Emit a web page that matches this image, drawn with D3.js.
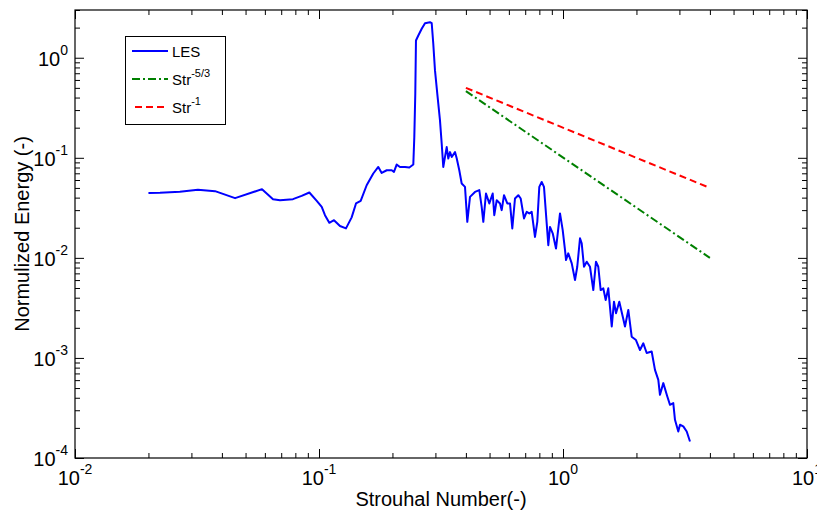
<!DOCTYPE html>
<html>
<head>
<meta charset="utf-8">
<script src="https://cdn.jsdelivr.net/npm/d3@7"></script>
<style>
  body { margin: 0; background: #fff; }
  text { font-family: Arial, "Liberation Sans", sans-serif; fill: #000; }
</style>
</head>
<body>
<script>
// LES spectrum
var lesSt = [0.0200,0.0223,0.0269,0.0319,0.0375,0.0453,0.0584,0.0648,0.0692,0.0782,
  0.0849,0.0913,0.0979,0.1026,0.1058,0.1102,0.1152,0.1219,0.1290,0.1361,
  0.1418,0.1482,0.1568,0.1669,0.1750,0.1807,0.1895,0.1986,0.2029,0.2081,
  0.2148,0.2252,0.2345,0.2435,0.2458,0.2481,0.2497,0.2553,0.2636,0.2719,
  0.2850,0.2897,0.2940,0.2988,0.3053,0.3132,0.3183,0.3231,0.3284,0.3337,
  0.3388,0.3443,0.3499,0.3609,0.3667,0.3758,0.3844,0.3966,0.4053,0.4158,
  0.4358,0.4539,0.4642,0.4714,0.4835,0.4989,0.5151,0.5229,0.5350,0.5518,
  0.5608,0.5731,0.5912,0.6065,0.6197,0.6357,0.6558,0.6708,0.6921,0.7099,
  0.7276,0.7442,0.7677,0.7847,0.7996,0.8178,0.8357,0.8574,0.8706,0.8845,
  0.9074,0.9361,0.9721,0.9972,1.019,1.029,1.051,1.086,1.120,1.144,
  1.174,1.193,1.219,1.251,1.290,1.331,1.365,1.395,1.427,1.463,
  1.496,1.533,1.584,1.618,1.649,1.701,1.757,1.795,1.852,1.912,
  1.991,2.068,2.134,2.203,2.309,2.382,2.458,2.497,2.577,2.676,
  2.745,2.831,2.877,2.968,3.016,3.112,3.214,3.315];
var lesE = [0.0446,0.0448,0.0459,0.0480,0.0464,0.0395,0.0486,0.0386,0.0377,0.0386,
  0.0416,0.0450,0.0371,0.0323,0.0267,0.0224,0.0238,0.0208,0.0197,0.0254,
  0.0350,0.0371,0.0532,0.0697,0.0810,0.0706,0.0751,0.0751,0.0723,0.0856,
  0.0810,0.0810,0.0799,0.0856,0.161,0.437,1.488,1.669,1.947,2.214,
  2.265,2.214,1.379,0.747,0.437,0.237,0.139,0.0810,0.102,0.128,
  0.0983,0.114,0.102,0.114,0.0990,0.0751,0.0554,0.0512,0.0229,0.0407,
  0.0456,0.0475,0.0323,0.0229,0.0440,0.0350,0.0440,0.0267,0.0377,0.0350,
  0.0300,0.0423,0.0350,0.0350,0.0197,0.0392,0.0423,0.0392,0.0248,0.0288,
  0.0278,0.0288,0.0162,0.0229,0.0512,0.0574,0.0512,0.0221,0.0134,0.0204,
  0.0176,0.0124,0.0278,0.0189,0.0120,0.00951,0.0111,0.00881,0.00601,0.00815,
  0.0157,0.0140,0.00815,0.00915,0.00815,0.00477,0.00915,0.00815,0.00477,0.00496,
  0.00379,0.00496,0.00206,0.00365,0.00280,0.00365,0.00259,0.00206,0.00302,0.00163,
  0.00151,0.00120,0.00140,0.00112,0.00116,0.000760,0.000604,0.000428,0.000560,0.000412,
  0.000340,0.000354,0.000241,0.000184,0.000215,0.000207,0.000184,0.000146];

// reference slopes
var slopeSt = [0.4, 4];
var slope53 = [0.464, 0.01];
var slope1 = [0.5, 0.05];

var xTickExp = [-2, -1, 0, 1];
var yTickExp = [-4, -3, -2, -1, 0];
var legendNames = [["LES", ""], ["Str", "-5/3"], ["Str", "-1"]];

var W = 817, H = 512;
var mLeft = 75, mRight = 807, mTop = 10, mBottom = 458;

var x = d3.scaleLog().domain([0.01, 10]).range([mLeft, mRight]);
var y = d3.scaleLog().domain([1e-4, 3]).range([mBottom, mTop]);

var svg = d3.select("body").append("svg")
    .attr("width", W)
    .attr("height", H);

// minor ticks
var minorX = [], minorY = [];
xTickExp.slice(0, -1).forEach(function(e) {
    for (var m = 2; m < 10; m++) minorX.push(m * Math.pow(10, e));
});
yTickExp.forEach(function(e) {
    for (var m = 2; m < 10; m++) {
	var v = m * Math.pow(10, e);
	if (v <= 3) minorY.push(v);
    }
});
var majorX = xTickExp.map(function(e) { return Math.pow(10, e); });
var majorY = yTickExp.map(function(e) { return Math.pow(10, e); });

function addAxis(axis, tx, ty) {
    var g = svg.append("g")
	.attr("transform", "translate(" + tx + "," + ty + ")")
	.call(axis);
    g.select(".domain").remove();
    g.selectAll("line").attr("stroke", "#000").attr("stroke-width", 1);
}

addAxis(d3.axisBottom(x).tickValues(majorX).tickSize(-9).tickSizeOuter(0).tickFormat(""), 0, mBottom);
addAxis(d3.axisBottom(x).tickValues(minorX).tickSize(-5).tickSizeOuter(0).tickFormat(""), 0, mBottom);
addAxis(d3.axisTop(x).tickValues(majorX).tickSize(-9).tickSizeOuter(0).tickFormat(""), 0, mTop);
addAxis(d3.axisTop(x).tickValues(minorX).tickSize(-5).tickSizeOuter(0).tickFormat(""), 0, mTop);
addAxis(d3.axisLeft(y).tickValues(majorY).tickSize(-9).tickSizeOuter(0).tickFormat(""), mLeft, 0);
addAxis(d3.axisLeft(y).tickValues(minorY).tickSize(-5).tickSizeOuter(0).tickFormat(""), mLeft, 0);
addAxis(d3.axisRight(y).tickValues(majorY).tickSize(-9).tickSizeOuter(0).tickFormat(""), mRight, 0);
addAxis(d3.axisRight(y).tickValues(minorY).tickSize(-5).tickSizeOuter(0).tickFormat(""), mRight, 0);

// box
svg.append("rect")
    .attr("x", mLeft)
    .attr("y", mTop)
    .attr("width", mRight - mLeft)
    .attr("height", mBottom - mTop)
    .attr("fill", "none")
    .attr("stroke", "#000")
    .attr("stroke-width", 1.2);

// tick labels
var xl = svg.selectAll(".xlab")
    .data(xTickExp)
    .enter().append("text")
    .attr("class", "xlab")
    .attr("x", function(d) { return x(Math.pow(10, d)); })
    .attr("y", mBottom + 27)
    .attr("text-anchor", "middle")
    .style("font-size", "20px");
xl.append("tspan").text("10");
xl.append("tspan").attr("dy", -11).style("font-size", "14px").text(function(d) { return d >= 0 ? String(d) : "-" + Math.abs(d); });

var yl = svg.selectAll(".ylab")
    .data(yTickExp)
    .enter().append("text")
    .attr("class", "ylab")
    .attr("x", mLeft - 7)
    .attr("y", function(d) { return y(Math.pow(10, d)) + 8; })
    .attr("text-anchor", "end")
    .style("font-size", "20px");
yl.append("tspan").text("10");
yl.append("tspan").attr("dy", -11).style("font-size", "14px").text(function(d) { return d === 0 ? "0" : "-" + Math.abs(d); });

// axis titles
svg.append("text")
    .attr("x", (mLeft + mRight) / 2)
    .attr("y", 506)
    .attr("text-anchor", "middle")
    .style("font-size", "20px")
    .text("Strouhal Number(-)");

svg.append("text")
    .attr("transform", "translate(29," + (mTop + mBottom) / 2 + ") rotate(-90)")
    .attr("text-anchor", "middle")
    .style("font-size", "20px")
    .text("Normulized Energy (-)");

// data lines
var line = d3.line()
    .x(function(d) { return x(d[0]); })
    .y(function(d) { return y(d[1]); });

svg.append("path")
    .datum(d3.zip(slopeSt, slope53))
    .attr("d", line)
    .attr("fill", "none")
    .attr("stroke", "#008000")
    .attr("stroke-width", 2)
    .attr("stroke-dasharray", "8,3,2,3");

svg.append("path")
    .datum(d3.zip(slopeSt, slope1))
    .attr("d", line)
    .attr("fill", "none")
    .attr("stroke", "#ff0000")
    .attr("stroke-width", 2)
    .attr("stroke-dasharray", "7,4");

svg.append("path")
    .datum(d3.zip(lesSt, lesE))
    .attr("d", line)
    .attr("fill", "none")
    .attr("stroke", "#0000ff")
    .attr("stroke-width", 2)
    .attr("stroke-linejoin", "round");

// legend
var leg = svg.append("g").attr("class", "legend");
leg.append("rect")
    .attr("x", 125.5)
    .attr("y", 36.5)
    .attr("width", 100)
    .attr("height", 88)
    .attr("fill", "#fff")
    .attr("stroke", "#000")
    .attr("stroke-width", 1);

var legColors = ["#0000ff", "#008000", "#ff0000"];
var legDash = [null, "8,3,2,3", "7,4"];
legendNames.forEach(function(n, i) {
    var ly = 51 + i * 28;
    leg.append("line")
	.attr("x1", i === 2 ? 135 : 132)
	.attr("x2", 168)
	.attr("y1", ly)
	.attr("y2", ly)
	.attr("stroke", legColors[i])
	.attr("stroke-width", 2)
	.attr("stroke-dasharray", legDash[i]);
    var t = leg.append("text")
	.attr("x", 172)
	.attr("y", ly + 6)
	.style("font-size", "15px");
    t.append("tspan").text(n[0]);
    if (n[1]) t.append("tspan").attr("dy", -8).style("font-size", "11px").text(n[1]);
});
</script>
</body>
</html>
